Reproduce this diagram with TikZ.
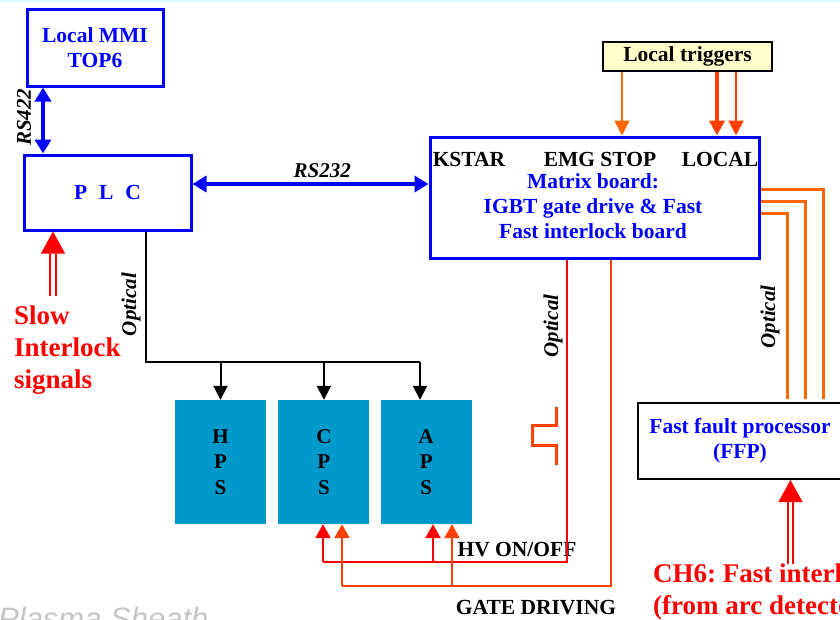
\documentclass[tikz,border=0pt]{standalone}
\usepackage{fontspec}
\setmainfont{Liberation Serif}
\newfontfamily\sheathfont{Liberation Sans}
\usepackage{tikz}
\usetikzlibrary{calc,arrows.meta,positioning}
\definecolor{blueb}{HTML}{0000FF}
\definecolor{redl}{HTML}{FF0000}
\definecolor{orangel}{HTML}{FF6600}
\definecolor{redo}{HTML}{FF4000}
\definecolor{psfill}{HTML}{0099CC}
\definecolor{trigfill}{HTML}{FFFFCC}
\definecolor{topline}{HTML}{D8FAFF}
\frenchspacing
\tikzset{
  bbox/.style={draw=blueb,line width=3pt,inner sep=0pt},
  kbox/.style={draw=black,line width=2pt,inner sep=0pt},
  lbl/.style={font=\fontsize{21.5}{25}\selectfont\bfseries,inner sep=0pt,align=center,text=black},
  rlbl/.style={inner sep=0pt,rotate=90,text=black,font=\fontsize{21}{25}\selectfont\bfseries\itshape},
  psbox/.style={fill=psfill,inner sep=0pt,minimum width=91pt,minimum height=124pt,align=center,font=\fontsize{21}{25.5}\selectfont\bfseries},
  barr/.style={{Triangle[length=14pt,width=16pt]}-{Triangle[length=14pt,width=16pt]},line width=4pt,blueb},
  kline/.style={line width=2pt,black},
  karr/.style={-{Triangle[length=14pt,width=14pt]},line width=2pt,black},
  tarr/.style={-{Triangle[length=15pt,width=15pt]},line width=1.6pt,orangel},
  tarrb/.style={-{Triangle[length=15pt,width=15pt]},line width=4.5pt,redo},
  tarrc/.style={-{Triangle[length=15pt,width=15pt]},line width=2.2pt,redo},
  rline/.style={line width=2.5pt,redl},
  rarr/.style={-{Triangle[length=14pt,width=15pt]},line width=2.5pt,redl},
  gline/.style={line width=2.5pt,redo},
  garr/.style={-{Triangle[length=14pt,width=15pt]},line width=2.5pt,redo},
  fline/.style={line width=3pt,orangel},
  rshaft/.style={redl,double=white,double distance=3.5pt,line width=1.8pt},
  rtip/.style={-{Triangle[length=22pt,width=24pt]},line width=1pt,redl},
  siglbl/.style={inner sep=0pt,align=left,text=redl,font=\fontsize{27}{32}\selectfont\bfseries}
}
\begin{document}
\begin{tikzpicture}[x=1pt,y=-1pt]
\useasboundingbox (0,0) rectangle (840,619);
\clip (0,0) rectangle (840,619);
\fill[topline] (0,0) rectangle (840,2);
% boxes
\node[bbox,lbl,text=blueb,minimum width=136pt,minimum height=77pt] (mmi) at (95,47.5) {Local MMI\\TOP6};
\node[bbox,lbl,text=blueb,minimum width=167pt,minimum height=75pt] (plc) at (107.5,192.5) {P\hspace{0.55em}L\hspace{0.55em}C};
\node[bbox,minimum width=329pt,minimum height=121pt] (mtx) at (594.5,197.5) {};
\node[lbl,draw=black,line width=1.5pt,fill=trigfill,minimum width=169pt,minimum height=29pt] (trig) at (687.5,56.5) {Local triggers};
\node[kbox,lbl,text=blueb,minimum width=204pt,minimum height=76pt] (ffp) at (740,441) {Fast fault processor\\(FFP)};
\node[psbox] (hps) at (220.5,462) {H\\P\\S};
\node[psbox,right=12pt of hps] (cps) {C\\P\\S};
\node[psbox,right=11pt of cps] (aps) {A\\P\\S};
% texts in matrix board
\node[lbl] (kstar) at (469,159) {KSTAR};
\node[lbl] (emg) at (600,159) {EMG STOP};
\node[lbl] (local) at (720,159) {LOCAL};
\node[lbl,text=blueb] (mtxtxt) at (593,206) {Matrix board:\\IGBT gate drive \& Fast\\Fast interlock board};
% free labels
\node[siglbl,anchor=north west] (slow) at (14,306) {Slow\\Interlock\\signals};
\node[siglbl,anchor=west] (ch6) at (653,592) {CH6: Fast interlock\\(from arc detector)};
\node[lbl] (hv) at (517,550) {HV ON/OFF};
\node[lbl] (gate) at (536,608) {GATE DRIVING};
\node[inner sep=0pt,anchor=base west,text=gray!45,font=\sheathfont\itshape\fontsize{31}{36}\selectfont] (sheath) at (-2,629) {Plasma Sheath};
% serial links
\coordinate (r4) at (43,0);
\draw[barr] (r4 |- mmi.south) -- node[pos=0.45,xshift=-19pt,rlbl]{RS422} (r4 |- plc.north);
\coordinate (r2) at (0,184);
\draw[barr] (plc.east |- r2) -- node[pos=0.55,yshift=13pt,lbl,font=\fontsize{21}{25}\selectfont\bfseries\itshape]{RS232} (mtx.west |- r2);
% local triggers
\coordinate (t1) at (622,0);
\coordinate (t2) at (717,0);
\coordinate (t3) at (736,0);
\draw[tarr] (t1 |- trig.south) -- (t1 |- mtx.north);
\draw[tarrb] (t2 |- trig.south) -- (t2 |- mtx.north);
\draw[tarrc] (t3 |- trig.south) -- (t3 |- mtx.north);
% optical bus to power supplies
\coordinate (bus) at (146,362);
\coordinate (busend) at (420,362);
\draw[kline] (bus |- plc.south) -- node[pos=0.56,xshift=-15pt,rlbl]{Optical} (bus) -- (busend);
\draw[karr] (hps.north |- bus) -- (hps.north);
\draw[karr] (cps.north |- bus) -- (cps.north);
\draw[karr] (busend) -- (busend |- aps.north);
% HV on/off
\coordinate (hvr) at (567,562);
\coordinate (hvl) at (323,562);
\coordinate (hvb) at (433,562);
\draw[rline] (hvr |- mtx.south) -- node[pos=0.22,xshift=-14pt,rlbl]{Optical} (hvr) -- (hvl);
\draw[rarr] (hvl) -- (hvl |- cps.south);
\draw[rarr] (hvb) -- (hvb |- aps.south);
% gate driving
\coordinate (gdr) at (611,586);
\coordinate (gdl) at (342,586);
\coordinate (gdb) at (452,586);
\draw[gline] (gdr |- mtx.south) -- (gdr) -- (gdl);
\draw[garr] (gdl) -- (gdl |- cps.south);
\draw[garr] (gdb) -- (gdb |- aps.south);
% pulse
\draw[redo,line width=3pt] (556,407) -- (556,425) -- (532,425) -- (532,445) -- (556,445) -- (556,465);
% links to FFP
\coordinate (f1) at (823,189);
\coordinate (f2) at (805,201);
\coordinate (f3) at (787,213);
\draw[fline,shorten >=3pt] (mtx.east |- f1) -- (f1) -- (f1 |- ffp.north);
\draw[fline,shorten >=3pt] (mtx.east |- f2) -- (f2) -- (f2 |- ffp.north);
\draw[fline,shorten >=3pt] (mtx.east |- f3) -- (f3) -- node[pos=0.55,xshift=-17pt,rlbl]{Optical} (f3 |- ffp.north);
% interlock inputs
\coordinate (sl) at (53,296);
\draw[rshaft] (sl) -- ($(sl |- plc.south)+(0,22)$);
\draw[rtip] ($(sl |- plc.south)+(0,20)$) -- (sl |- plc.south);
\coordinate (fl) at (790.5,564);
\draw[rshaft] (fl) -- ($(fl |- ffp.south)+(0,22)$);
\draw[rtip] ($(fl |- ffp.south)+(0,20)$) -- (fl |- ffp.south);
\end{tikzpicture}
\end{document}
